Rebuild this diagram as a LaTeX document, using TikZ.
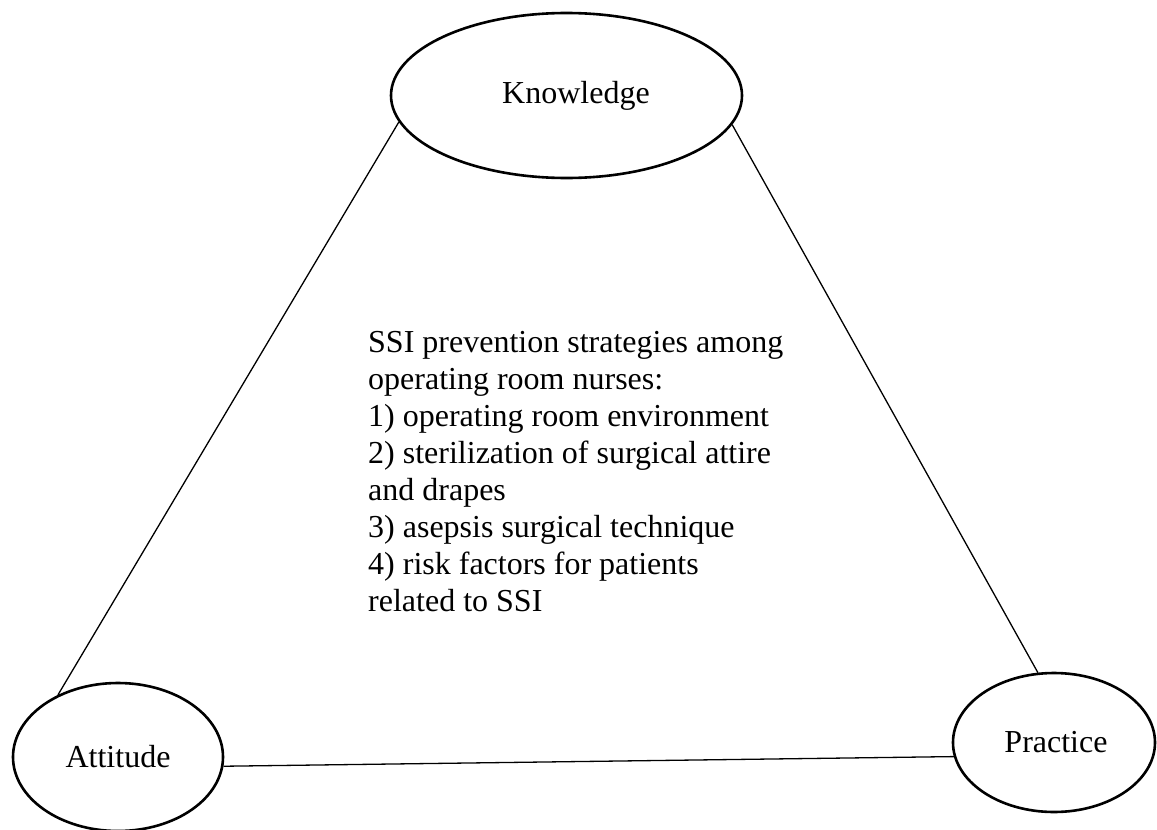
\documentclass[tikz,border=0pt]{standalone}
\usepackage{fontspec}
\setmainfont{Liberation Serif}
\usetikzlibrary{shapes.geometric}
\tikzset{
  bubble/.style={draw=black, line width=2.6pt, ellipse, inner sep=0pt, font=\fontsize{32}{37}\selectfont},
  link/.style={draw=black, line width=1.3pt},
  infotext/.style={inner sep=0pt, align=left, anchor=north west, font=\fontsize{32}{37}\selectfont}
}
\begin{document}
\begin{tikzpicture}[x=1pt,y=-1pt]
\useasboundingbox (0,0) rectangle (1157,830);
\node[bubble, minimum width=351pt, minimum height=165pt] (K) at (566.5,95.5) {\hspace*{19pt}Knowledge};
\node[bubble, minimum width=210pt, minimum height=148pt] (A) at (118,757) {Attitude};
\node[bubble, minimum width=202pt, minimum height=139pt] (P) at (1054,742.5) {\hspace*{4pt}Practice};
\node[infotext] (T) at (368,331) {SSI prevention strategies among\\operating room nurses:\\1) operating room environment\\2) sterilization of surgical attire\\and drapes\\3) asepsis surgical technique\\4) risk factors for patients\\related to SSI};
\draw[link] (K.189.3) -- (A.134.1);
\draw[link] (K.350) -- (P.103);
\draw[link] (A.-5.4) -- (P.188.7);
\end{tikzpicture}
\end{document}
